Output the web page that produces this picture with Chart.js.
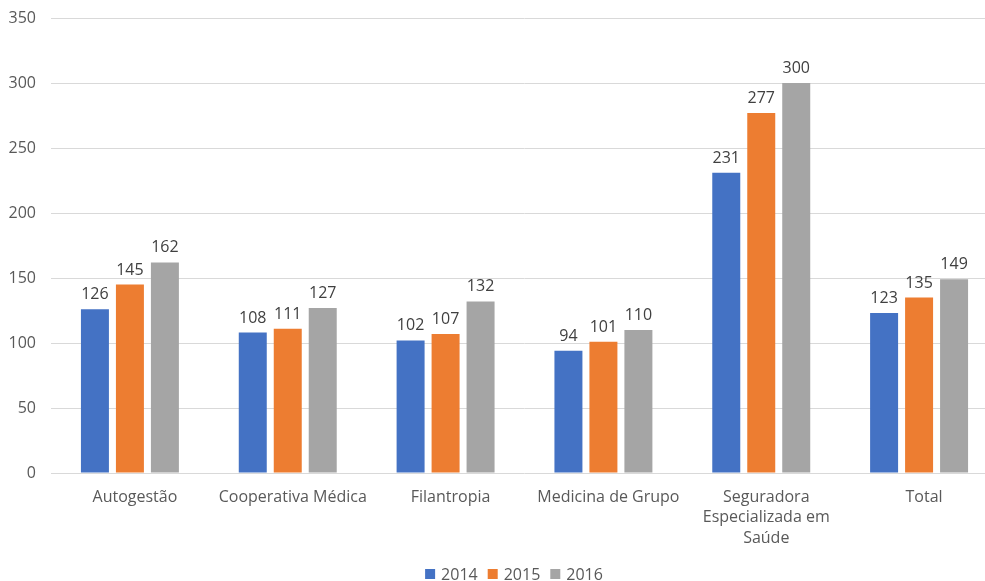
<!DOCTYPE html>
<html>
<head>
<meta charset="utf-8">
<script src="https://cdn.jsdelivr.net/npm/chart.js@4"></script>
<style>
    html, body { margin: 0; padding: 0; background: #fff; overflow: hidden; }
    #wrap { width: 1000px; height: 581px; }
</style>
</head>
<body>
<div id="wrap"><canvas id="chart" width="1000" height="581"></canvas></div>
<script>
// 类别与数据
const categories = [
    'Autogestão',
    'Cooperativa Médica',
    'Filantropia',
    'Medicina de Grupo',
    ['Seguradora', 'Especializada em', 'Saúde'],
    'Total'
];
const years = ['2014', '2015', '2016'];
const values2014 = [126, 108, 102, 94, 231, 123];
const values2015 = [145, 111, 107, 101, 277, 135];
const values2016 = [162, 127, 132, 110, 300, 149];
const yTicks = [0, 50, 100, 150, 200, 250, 300, 350];

const colors = ['#4472C4', '#ED7D31', '#A5A5A5'];
const fontFamily = "'Open Sans', 'Noto Sans', sans-serif";

// 柱顶数值标签
const valueLabels = {
    id: 'valueLabels',
    afterDatasetsDraw(chart) {
        const ctx = chart.ctx;
        ctx.save();
        ctx.font = '16px ' + fontFamily;
        ctx.fillStyle = '#404040';
        ctx.textAlign = 'center';
        ctx.textBaseline = 'alphabetic';
        chart.data.datasets.forEach((ds, i) => {
            const meta = chart.getDatasetMeta(i);
            meta.data.forEach((bar, j) => {
                ctx.fillText(ds.data[j], bar.x, bar.y - 10);
            });
        });
        ctx.restore();
    }
};

// 底部图例（自绘）
const bottomLegend = {
    id: 'bottomLegend',
    afterDraw(chart) {
        const ctx = chart.ctx;
        ctx.save();
        ctx.font = '16px ' + fontFamily;
        ctx.textBaseline = 'alphabetic';
        const box = 10, gap = 6, spacing = 10;
        const items = chart.data.datasets.map(ds => ({
            text: ds.label,
            color: ds.backgroundColor,
            w: box + gap + ctx.measureText(ds.label).width
        }));
        const total = items.reduce((s, it) => s + it.w, 0) + spacing * (items.length - 1);
        let x = chart.width / 2 + 14 - total / 2;
        const boxTop = 569;
        items.forEach(it => {
            ctx.fillStyle = it.color;
            ctx.fillRect(x, boxTop, box, box);
            ctx.fillStyle = '#595959';
            ctx.fillText(it.text, x + box + gap, boxTop + 11);
            x += it.w + spacing;
        });
        ctx.restore();
    }
};

const ctx = document.getElementById('chart').getContext('2d');
const chart = new Chart(ctx, {
    type: 'bar',
    data: {
        labels: categories,
        datasets: [values2014, values2015, values2016].map((d, i) => ({
            label: years[i],
            data: d,
            backgroundColor: colors[i],
            categoryPercentage: 0.665,
            barPercentage: 0.8
        }))
    },
    options: {
        responsive: false,
        animation: false,
        layout: { padding: { top: 18, right: 2, left: 0, bottom: 0 } },
        plugins: {
            legend: { display: false },
            tooltip: { enabled: false }
        },
        scales: {
            x: {
                grid: { display: false, drawTicks: false },
                border: { display: false },
                ticks: {
                    color: '#595959',
                    font: { family: fontFamily, size: 16, lineHeight: 1.28 },
                    padding: 14,
                    labelOffset: 5,
                    maxRotation: 0,
                    autoSkip: false
                },
                afterFit(scale) { scale.height = 108; }
            },
            y: {
                min: 0,
                max: 350,
                afterBuildTicks(scale) { scale.ticks = yTicks.map(v => ({ value: v })); },
                grid: { color: '#D9D9D9', drawTicks: false },
                border: { display: false },
                ticks: {
                    color: '#595959',
                    font: { family: fontFamily, size: 16 },
                    padding: 15
                },
                afterFit(scale) {
                    scale.width = 51;
                    scale.paddingTop = 0;
                }
            }
        }
    },
    plugins: [valueLabels, bottomLegend]
});
</script>
</body>
</html>
